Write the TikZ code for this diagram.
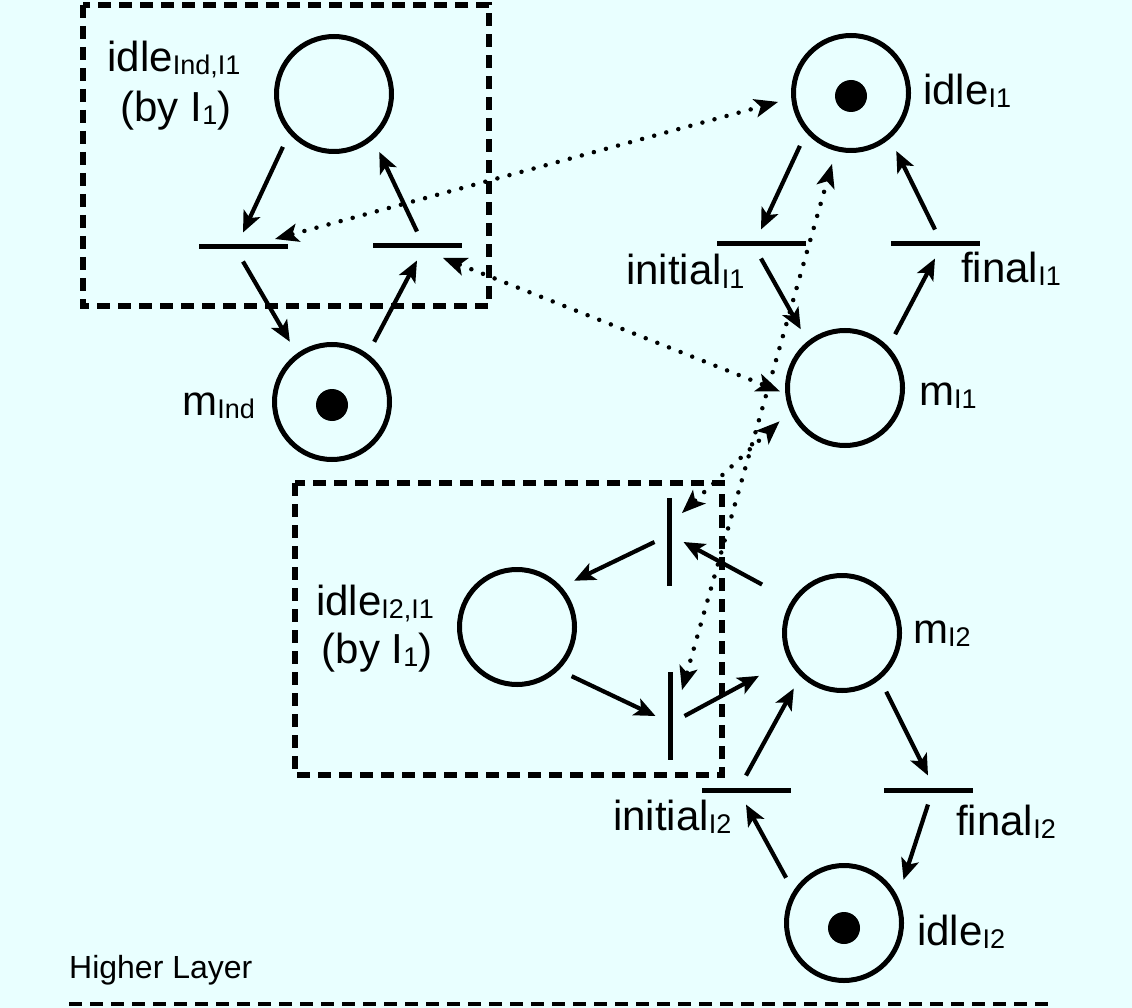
\documentclass[tikz,border=0pt]{standalone}
\usepackage{fontspec}
\setmainfont{Liberation Sans}
\usetikzlibrary{arrows.meta}
\definecolor{layerbg}{RGB}{233,255,255}
\newcommand{\lsub}[1]{\raisebox{-3pt}{\fontsize{27}{27}\selectfont #1}}
\tikzset{
  place/.style={circle, draw, line width=5pt, minimum size=115pt, inner sep=0pt, outer sep=16pt},
  token/.style={circle, fill, minimum size=32pt, inner sep=0pt},
  hbar/.style={fill, minimum width=89pt, minimum height=5pt, inner sep=0pt, outer sep=12pt},
  vbar/.style={fill, minimum width=5pt, minimum height=88pt, inner sep=0pt, outer sep=12pt},
  arc/.style={line width=4.2pt, -{Stealth[length=21pt,width=18pt,inset=5pt]}},
  dothead/.style={arrows={Stealth[length=24pt,width=19pt,inset=6pt,line width=0pt]-Stealth[length=24pt,width=19pt,inset=6pt,line width=0pt]}},
  link/.style={line width=4.5pt, line cap=round, dash pattern=on 0pt off 12.5pt, dothead},
  frame/.style={line width=5.5pt, dash pattern=on 13pt off 8pt},
  lbl/.style={inner sep=0pt, font=\fontsize{42}{50}\selectfont}
}

\begin{document}
\begin{tikzpicture}[x=1pt, y=-1pt]
\useasboundingbox (0,0) rectangle (1132,1008);
\fill[layerbg] (0,0) rectangle (1132,1008);
\draw[frame] (83,5) rectangle (489,306);
\draw[frame] (295,483) rectangle (722,775);
\draw[frame, line width=4.5pt] (69,1004) -- (1051,1004);

\node[place] (pIdleInd) at (334,94) {};
\node[place] (pMInd) at (332,402) {};
\node[place] (pIdleI1) at (851,93) {};
\node[place] (pMI1) at (845,388) {};
\node[place] (pIdleI2I1) at (517,627) {};
\node[place] (pMI2) at (842,633) {};
\node[place] (pIdleI2) at (844,923) {};
\node[token] (kMInd) at ([yshift=-3pt]pMInd.center) {};
\node[token] (kIdleI1) at ([yshift=-3pt]pIdleI1.center) {};
\node[token] (kIdleI2) at ([yshift=-5pt]pIdleI2.center) {};

\node[hbar] (tA) at (243,247) {};
\node[hbar] (tB) at (417,246) {};
\node[hbar] (tInitI1) at (761,244) {};
\node[hbar] (tFinI1) at (935,244) {};
\node[vbar] (tC) at (669,542) {};
\node[vbar] (tD) at (670,716) {};
\node[hbar] (tInitI2) at (746,790) {};
\node[hbar] (tFinI2) at (928,790) {};

\draw[arc] (pIdleInd.226) -- (tA.north);
\draw[arc] (tA.south) -- (pMInd.125);
\draw[arc] (pMInd.55) -- (tB.south);
\draw[arc] (tB.north) -- (pIdleInd.308);
\draw[arc] (pIdleI1.226) -- (tInitI1.north);
\draw[arc] (tInitI1.south) -- (pMI1.127);
\draw[arc] (pMI1.47) -- (tFinI1.south);
\draw[arc] (tFinI1.north) -- (pIdleI1.308);
\draw[arc] (tC.west) -- (pIdleI2I1.39);
\draw[arc, shorten <=20pt] (pMI2.148) -- (tC.east);
\draw[arc] (pIdleI2I1.318) -- (tD.west);
\draw[arc, shorten >=20pt] (tD.east) -- (pMI2.207);
\draw[arc] (tInitI2.north) -- (pMI2.229);
\draw[arc] (pMI2.307) -- (tFinI2.north);
\draw[arc] (pIdleI2.142) -- (tInitI2.south);
\draw[arc] (tFinI2.south) -- (pIdleI2.36);

\draw[link] ([shift={(32,-8)}]tA.center) -- (pIdleI1.187);
\draw[link, shorten >=-9pt] ([shift={(26,12)}]tB.center) -- (pMI1.180);
\draw[link] ([shift={(13,-29)}]tC.center) -- (pMI1.207);
\draw[link] ([shift={(12,-26)}]tD.center) -- (pIdleI1.255);

\node[lbl, anchor=base] (lIdleInd) at (174,72) {idle\lsub{Ind,I1}};
\node[lbl, anchor=base] (lByA) at (176,122) {(by I\lsub{1})};
\node[lbl, anchor=base east] (lMInd) at (255,415) {m\lsub{Ind}};
\node[lbl, anchor=base west] (lIdleI1) at (923,105) {idle\lsub{I1}};
\node[lbl, anchor=base west] (lInitI1) at (626,285) {initial\lsub{I1}};
\node[lbl, anchor=base west] (lFinI1) at (961,283) {final\lsub{I1}};
\node[lbl, anchor=base west] (lMI1) at (919,405) {m\lsub{I1}};
\node[lbl, anchor=base] (lIdleI2I1) at (375,615) {idle\lsub{I2,I1}};
\node[lbl, anchor=base] (lByB) at (377,663) {(by I\lsub{1})};
\node[lbl, anchor=base west] (lMI2) at (913,643) {m\lsub{I2}};
\node[lbl, anchor=base west] (lInitI2) at (613,830) {initial\lsub{I2}};
\node[lbl, anchor=base west] (lFinI2) at (956,835) {final\lsub{I2}};
\node[lbl, anchor=base west] (lIdleI2) at (917,945) {idle\lsub{I2}};
\node[inner sep=0pt, anchor=base west, font=\fontsize{32}{38}\selectfont] (lLayer) at (69,978) {Higher Layer};
\end{tikzpicture}
\end{document}
